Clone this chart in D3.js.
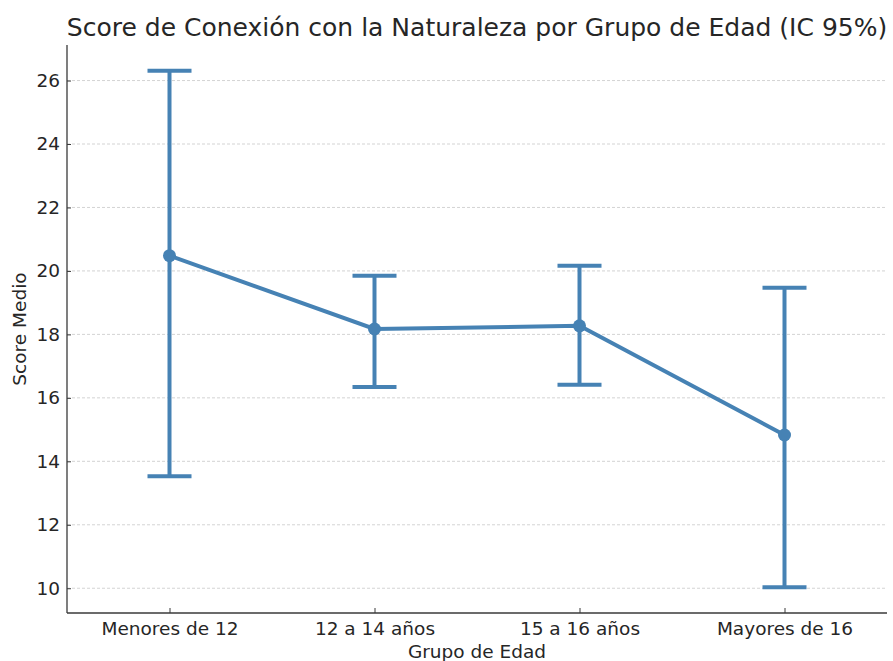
<!DOCTYPE html>
<html>
<head>
<meta charset="utf-8">
<script src="https://cdn.jsdelivr.net/npm/d3@7"></script>
<style>
  body { margin: 0; background: #fff; }
  text { font-family: "DejaVu Sans", sans-serif; fill: #262626; }
</style>
</head>
<body>
<svg id="chart" width="893" height="661"></svg>
<script>
// Age groups and mean score with 95% CI
const groups = ['Menores de 12', '12 a 14 años', '15 a 16 años', 'Mayores de 16'];
const means = [20.48, 18.17, 18.27, 14.83];
const lower = [13.53, 16.34, 16.41, 10.03];
const upper = [26.31, 19.85, 20.16, 19.47];
const yTicks = [10, 12, 14, 16, 18, 20, 22, 24, 26];

const svg = d3.select('#chart');
const plotLeft = 67, plotRight = 887, plotTop = 45, plotBottom = 613;
const color = '#4682b4';

const x = d3.scalePoint().domain(groups).range([plotLeft, plotRight]).padding(0.5);
const y = d3.scaleLinear().domain([9.22, 27.12]).range([plotBottom, plotTop]);

// dashed grid lines
svg.append('g')
  .selectAll('line')
  .data(yTicks)
  .join('line')
  .attr('x1', plotLeft).attr('x2', plotRight)
  .attr('y1', d => y(d)).attr('y2', d => y(d))
  .attr('stroke', '#c8c8c8')
  .attr('stroke-width', 0.8)
  .attr('stroke-dasharray', '3,2');

// axes
const yAxis = svg.append('g')
  .attr('transform', `translate(${plotLeft},0)`)
  .call(d3.axisLeft(y).tickValues(yTicks).tickSize(-4).tickPadding(7));
const xAxis = svg.append('g')
  .attr('transform', `translate(0,${plotBottom})`)
  .call(d3.axisBottom(x).tickSize(-5).tickPadding(9));

[yAxis, xAxis].forEach(g => {
  g.select('.domain').attr('stroke', '#3a3a3a').attr('stroke-width', 1.3);
  g.selectAll('.tick line').attr('stroke', '#3a3a3a');
  g.selectAll('.tick text').style('font-size', '18.5px').attr('fill', '#262626');
});
// keep only left and bottom spines, extending the full axis
yAxis.select('.domain').attr('d', `M0,${plotBottom}V${plotTop}`);
xAxis.select('.domain').attr('d', `M${plotLeft},0H${plotRight}`);

const idx = d3.range(groups.length);

// error bars
const eb = svg.append('g').attr('stroke', color).attr('stroke-width', 4);
eb.selectAll('line.v').data(idx).join('line').attr('class', 'v')
  .attr('x1', i => x(groups[i])).attr('x2', i => x(groups[i]))
  .attr('y1', i => y(lower[i])).attr('y2', i => y(upper[i]));
eb.selectAll('line.cu').data(idx).join('line').attr('class', 'cu')
  .attr('x1', i => x(groups[i]) - 22).attr('x2', i => x(groups[i]) + 22)
  .attr('y1', i => y(upper[i])).attr('y2', i => y(upper[i]));
eb.selectAll('line.cl').data(idx).join('line').attr('class', 'cl')
  .attr('x1', i => x(groups[i]) - 22).attr('x2', i => x(groups[i]) + 22)
  .attr('y1', i => y(lower[i])).attr('y2', i => y(lower[i]));

// mean line + markers
svg.append('path')
  .datum(idx)
  .attr('fill', 'none')
  .attr('stroke', color)
  .attr('stroke-width', 4)
  .attr('d', d3.line().x(i => x(groups[i])).y(i => y(means[i])));

svg.append('g').selectAll('circle')
  .data(idx)
  .join('circle')
  .attr('cx', i => x(groups[i]))
  .attr('cy', i => y(means[i]))
  .attr('r', 6.5)
  .attr('fill', color);

// title and labels
svg.append('text')
  .attr('x', (plotLeft + plotRight) / 2).attr('y', 36)
  .attr('text-anchor', 'middle')
  .style('font-size', '25px')
  .text('Score de Conexión con la Naturaleza por Grupo de Edad (IC 95%)');

svg.append('text')
  .attr('x', (plotLeft + plotRight) / 2).attr('y', 658)
  .attr('text-anchor', 'middle')
  .style('font-size', '18.5px')
  .text('Grupo de Edad');

svg.append('text')
  .attr('transform', `translate(26,${(plotTop + plotBottom) / 2}) rotate(-90)`)
  .attr('text-anchor', 'middle')
  .style('font-size', '18.5px')
  .text('Score Medio');
</script>
</body>
</html>
